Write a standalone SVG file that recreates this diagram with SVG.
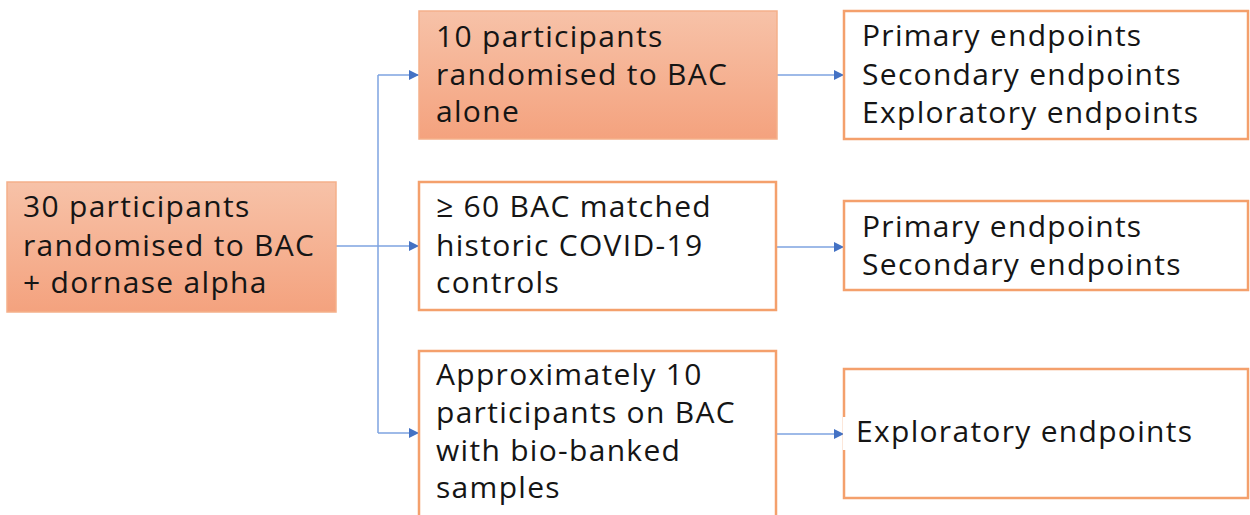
<svg xmlns="http://www.w3.org/2000/svg" width="1250" height="515" viewBox="0 0 1250 515">
<defs>
<linearGradient id="og" x1="0" y1="0" x2="0" y2="1">
<stop offset="0" stop-color="#F7C2A8"/>
<stop offset="1" stop-color="#F4A27E"/>
</linearGradient>
<marker id="ah" viewBox="0 0 10 10" refX="10" refY="5" markerWidth="10" markerHeight="10" markerUnits="userSpaceOnUse" orient="auto">
<path d="M0,0 L10,5 L0,10 z" fill="#4472C4"/>
</marker>
<style>
.filled{fill:url(#og);stroke:#F5B08A;stroke-width:1.5}
.plain{fill:#FFFFFF;stroke:#F4A06C;stroke-width:2.5}
text{font-family:"Open Sans","DejaVu Sans",sans-serif;font-size:30px;letter-spacing:1.3px;fill:#151515}
.conn{fill:none;stroke:#7EA3E0;stroke-width:1.5}
.arr{marker-end:url(#ah)}
</style>
</defs>
<rect width="1250" height="515" fill="#FFFFFF"/>
<g id="connectors">
<path class="conn" d="M378,75 V433"/>
<path class="conn arr" d="M336,246 H419"/>
<path class="conn arr" d="M378,75 H419"/>
<path class="conn arr" d="M378,433 H419"/>
<path class="conn arr" d="M777,75 H844"/>
<path class="conn arr" d="M777,247 H844"/>
<path class="conn arr" d="M777,434 H844"/>
</g>
<g id="n_start">
<rect class="filled" x="7" y="182" width="329" height="130"/>
<text x="23" y="217">30 participants</text>
<text x="23" y="256">randomised to BAC</text>
<text x="23" y="293">+ dornase alpha</text>
</g>
<g id="n_bac">
<rect class="filled" x="419" y="11" width="358" height="128"/>
<text x="436" y="47">10 participants</text>
<text x="436" y="85">randomised to BAC</text>
<text x="436" y="122">alone</text>
</g>
<g id="n_controls">
<rect class="plain" x="419" y="182" width="357" height="128"/>
<text x="436" y="217">≥ 60 BAC matched</text>
<text x="436" y="256">historic COVID-19</text>
<text x="436" y="293">controls</text>
</g>
<g id="n_biobank">
<rect class="plain" x="419" y="351" width="357" height="180"/>
<text x="436" y="385">Approximately 10</text>
<text x="436" y="423">participants on BAC</text>
<text x="436" y="461">with bio-banked</text>
<text x="436" y="498">samples</text>
</g>
<g id="n_ep1">
<rect class="plain" x="844" y="11" width="404" height="128"/>
<text x="862" y="46">Primary endpoints</text>
<text x="862" y="85">Secondary endpoints</text>
<text x="862" y="123">Exploratory endpoints</text>
</g>
<g id="n_ep2">
<rect class="plain" x="844" y="201" width="404" height="89"/>
<text x="862" y="237">Primary endpoints</text>
<text x="862" y="275">Secondary endpoints</text>
</g>
<g id="n_ep3">
<rect class="plain" x="844" y="369" width="404" height="129"/>
<rect x="843" y="417" width="8" height="33" fill="#FFFFFF"/>
<text x="856" y="442">Exploratory endpoints</text>
</g>
</svg>
